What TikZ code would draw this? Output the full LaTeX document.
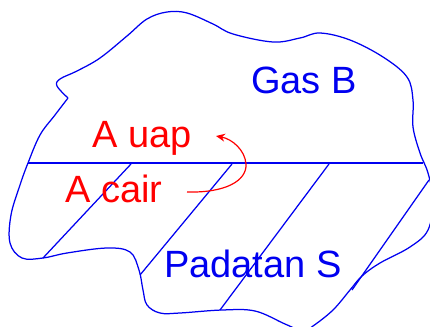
\documentclass[tikz,border=0pt]{standalone}
\usepackage{fontspec}
\setmainfont{Liberation Sans}
\usetikzlibrary{arrows.meta}
\definecolor{lineblue}{RGB}{0,0,240}
\definecolor{labelred}{RGB}{255,0,0}
\tikzset{
  edge/.style={draw=lineblue, line width=1.25pt, line join=round},
  label/.style={anchor=base west, inner sep=0pt, font=\fontsize{38}{40}\selectfont},
  bluelabel/.style={label, text=lineblue},
  redlabel/.style={label, text=labelred},
  flow/.style={draw=labelred, line width=1.2pt, -{Stealth[length=9pt,width=8pt]}}
}
\begin{document}
\begin{tikzpicture}[x=1pt,y=-1pt]
\useasboundingbox (0,0) rectangle (430,326);
\clip (0,0) rectangle (430,326);
% boundary of the system
\draw[edge] plot[smooth, tension=0.6] coordinates {
  (68,98) (57,86) (60,79) (77,71) (100,58) (127,36) (147,19) (167,12) (187,13)
  (213,24) (233,34) (273,42) (300,38) (320,33) (350,40) (383,57) (407,77)
  (413,100) (413,127) (420,153) (428,173) (433,200) (428,230) (410,247)
  (380,263) (362,276) (350,290) (333,310) (313,326) (303,331) (285,324)
  (255,311) (222,310) (180,313) (160,313) (147,305) (143,290) (139,270)
  (130,252) (107,248) (67,253) (43,258) (22,258) (10,243) (11,215) (20,185)
  (28,163) (40,135) (55,115) (68,98)};
% liquid surface
\coordinate (sL) at (28,163);
\coordinate (sR) at (423,163);
\draw[edge] (sL) -- (sR);
% hatching of the solid
\coordinate (h1a) at (131,164); \coordinate (h1b) at (43,258);
\coordinate (h2a) at (232,164); \coordinate (h2b) at (140,275);
\coordinate (h3a) at (329,164); \coordinate (h3b) at (220,310);
\coordinate (h4a) at (429,180); \coordinate (h4b) at (352,290);
\draw[edge] (h1a) -- (h1b);
\draw[edge] (h2a) -- (h2b);
\draw[edge] (h3a) -- (h3b);
\draw[edge] (h4a) -- (h4b);
% labels
\node[bluelabel] (gas) at (251,93) {Gas B};
\node[redlabel] (uap) at (92,147) {A uap};
\node[redlabel] (cair) at (65,202) {A cair};
\node[bluelabel] (solid) at (164,277) {Padatan S};
% evaporation arrow
\coordinate (evS) at (187,192);
\coordinate (evM) at (246,164);
\coordinate (evE) at (216,136);
\draw[flow] (evS) .. controls (225,193) and (247,181) .. (evM)
  .. controls (245,150) and (232,139) .. (evE);
\end{tikzpicture}
\end{document}
